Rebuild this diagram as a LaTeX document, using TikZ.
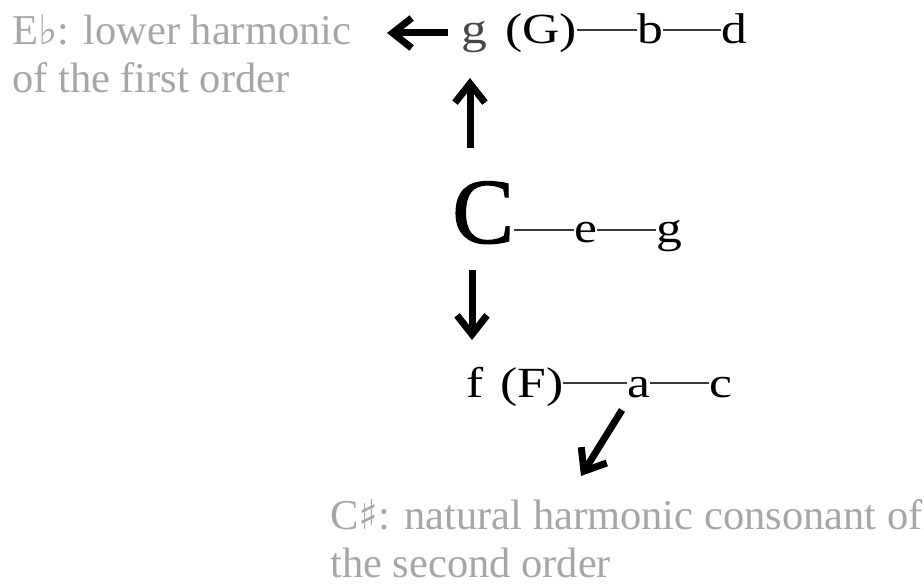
\documentclass[tikz,border=0pt]{standalone}
\usepackage{fontspec}
\setmainfont{Liberation Serif}
\newfontfamily\symfont{DejaVu Serif}
\newfontfamily\rootfont[FakeBold=1.2]{Liberation Serif}
\usetikzlibrary{arrows.meta}
\definecolor{notegray}{HTML}{A6A6A6}
\definecolor{dashgray}{HTML}{3A3A3A}
\tikzset{
  note/.style={anchor=base west, inner sep=0pt, text=notegray, font=\fontsize{42.5}{48}\selectfont},
  tone/.style={anchor=base west, inner sep=0pt, text=black, font=\fontsize{43}{48}\selectfont},
  root/.style={anchor=base west, inner sep=0pt, text=black, font=\rootfont\fontsize{93}{100}\selectfont},
  link/.style={draw=dashgray, line width=1.6pt},
  arr/.style={draw=black, line width=7pt, -{Straight Barb[length=19pt,width=30pt,line width=7pt]}}
}
\newcommand{\wide}[1]{\scalebox{1.2}[1]{#1}}
\newcommand{\accsym}[1]{{\symfont\fontsize{41}{44}\selectfont #1}}
\begin{document}
\begin{tikzpicture}[x=1pt,y=-1pt]
\useasboundingbox (0,0) rectangle (924,588);
% notes
\node[note] (n1a) at (12,45) {E\accsym{♭}: lower harmonic};
\node[note] (n1b) at (12,93) {of the first order};
\node[note] (n2a) at (330,529) {C\accsym{♯}: natural harmonic consonant of};
\node[note] (n2b) at (330,577) {the second order};
% top row
\node[tone, text=black!72] (tg) at (461,44) {\wide{g}};
\node[tone] (tG) at (505,44) {\wide{(G)}};
\node[tone] (tb) at (637,44) {\wide{b}};
\node[tone] (td) at (721,44) {\wide{d}};
\draw[link] ([yshift=14pt]tG.base east) -- ([yshift=14pt]tb.base west);
\draw[link] ([yshift=14pt]tb.base east) -- ([yshift=14pt]td.base west);
% middle row
\node[root] (mC) at (452,243) {C};
\node[tone] (me) at (574,243) {\wide{e}};
\node[tone] (mg) at (656,243) {\wide{g}};
\draw[link] ([yshift=13pt]mC.base east) -- ([yshift=13pt]me.base west);
\draw[link] ([yshift=13pt]me.base east) -- ([yshift=13pt]mg.base west);
% bottom row
\node[tone] (bf) at (466,397) {\wide{f}};
\node[tone] (bF) at (500,397) {\wide{(F)}};
\node[tone] (ba) at (627,397) {\wide{a}};
\node[tone] (bc) at (709,397) {\wide{c}};
\draw[link] ([yshift=14pt]bF.base east) -- ([yshift=14pt]ba.base west);
\draw[link] ([yshift=14pt]ba.base east) -- ([yshift=14pt]bc.base west);
% arrows
\coordinate (l0) at (448,33);
\coordinate (l1) at (387,33);
\coordinate (u0) at (470,148);
\coordinate (u1) at (470,78);
\coordinate (d0) at (472,270);
\coordinate (d1) at (472,340);
\coordinate (s0) at (622,410);
\coordinate (s1) at (581,476);
\draw[arr] (l0) -- (l1);
\draw[arr] (u0) -- (u1);
\draw[arr] (d0) -- (d1);
\draw[arr] (s0) -- (s1);
\end{tikzpicture}
\end{document}
